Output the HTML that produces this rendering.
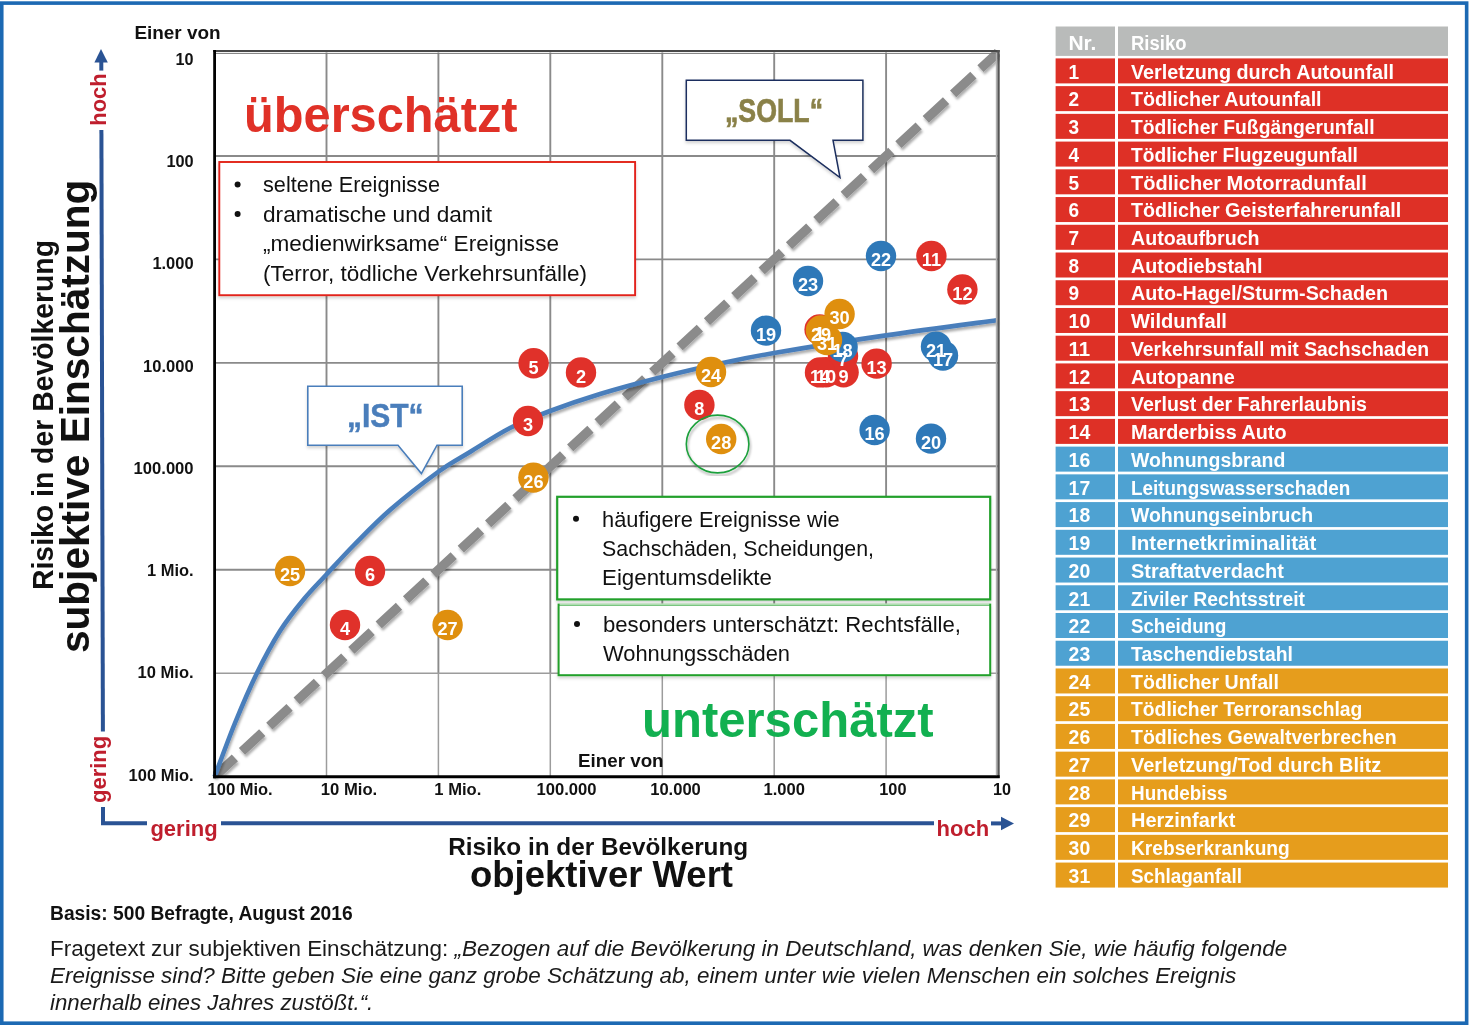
<!DOCTYPE html>
<html lang="de"><head><meta charset="utf-8"><title>Risiko in der Bevölkerung – subjektive Einschätzung und objektiver Wert</title>
<style>html,body{margin:0;padding:0;background:#fff}body{width:1471px;height:1025px;overflow:hidden}svg{display:block;font-family:"Liberation Sans", Arial, sans-serif}</style></head><body>
<svg width="1471" height="1025" viewBox="0 0 1471 1025">
<defs>
<filter id="sh" x="-5%" y="-10%" width="110%" height="130%"><feDropShadow dx="0" dy="2.2" stdDeviation="1.8" flood-color="#000" flood-opacity="0.17"/></filter>
<filter id="sh2" x="-5%" y="-5%" width="110%" height="110%"><feDropShadow dx="1.2" dy="2.6" stdDeviation="1.3" flood-color="#000" flood-opacity="0.32"/></filter>
<clipPath id="pc"><rect x="213" y="49" width="787" height="729"/></clipPath>
</defs>
<rect width="1471" height="1025" fill="#fff"/>
<rect x="1.75" y="3.1" width="1464.9" height="1020.1" fill="none" stroke="#1c69b3" stroke-width="3.6"/>
<g stroke="#8a8a8a" stroke-width="1.9" fill="none">
<line x1="326.5" y1="52.5" x2="326.5" y2="673.2"/>
<line x1="438.4" y1="52.5" x2="438.4" y2="673.2"/>
<line x1="550.3" y1="52.5" x2="550.3" y2="673.2"/>
<line x1="662.3" y1="52.5" x2="662.3" y2="673.2"/>
<line x1="774.2" y1="52.5" x2="774.2" y2="673.2"/>
<line x1="886.1" y1="52.5" x2="886.1" y2="673.2"/>
<line x1="214.6" y1="156.0" x2="998.0" y2="156.0"/>
<line x1="214.6" y1="259.4" x2="998.0" y2="259.4"/>
<line x1="214.6" y1="362.9" x2="998.0" y2="362.9"/>
<line x1="214.6" y1="466.3" x2="998.0" y2="466.3"/>
<line x1="214.6" y1="569.8" x2="998.0" y2="569.8"/>
</g>
<g stroke="#9c9c9c" stroke-width="1.5" fill="none">
<line x1="326.5" y1="673.2" x2="326.5" y2="776.7"/>
<line x1="438.4" y1="673.2" x2="438.4" y2="776.7"/>
<line x1="550.3" y1="673.2" x2="550.3" y2="776.7"/>
<line x1="662.3" y1="673.2" x2="662.3" y2="776.7"/>
<line x1="774.2" y1="673.2" x2="774.2" y2="776.7"/>
<line x1="886.1" y1="673.2" x2="886.1" y2="776.7"/>
<line x1="214.6" y1="673.2" x2="998.0" y2="673.2"/>
</g>
<line x1="214.6" y1="776.7" x2="998.0" y2="52.5" stroke="#8b8b8b" stroke-width="9.2" stroke-dasharray="27.6 9.65" filter="url(#sh2)" clip-path="url(#pc)"/>
<path d="M214.6,776.7 C218.0,767.8 227.9,740.3 235.0,723.0 C242.1,705.7 249.5,688.3 257.0,673.0 C264.5,657.7 272.2,643.3 280.0,631.0 C287.8,618.7 296.3,608.3 304.0,599.0 C311.7,589.7 317.7,584.0 326.0,575.0 C334.3,566.0 343.3,555.8 354.0,545.0 C364.7,534.2 376.0,522.2 390.0,510.0 C404.0,497.8 424.7,481.7 438.0,472.0 C451.3,462.3 458.0,459.3 470.0,452.0 C482.0,444.7 496.7,434.8 510.0,428.0 C523.3,421.2 535.0,416.7 550.0,411.0 C565.0,405.3 581.3,399.7 600.0,394.0 C618.7,388.3 642.0,382.1 662.0,377.0 C682.0,371.9 701.3,367.5 720.0,363.5 C738.7,359.5 746.3,357.7 774.0,353.0 C801.7,348.3 848.9,340.8 886.0,335.4 C923.1,329.9 978.1,322.8 996.5,320.3" fill="none" stroke="#4a7ebb" stroke-width="4.6" filter="url(#sh2)"/>
<line x1="213.2" y1="51" x2="999.7" y2="51" stroke="#484848" stroke-width="2"/>
<line x1="214.6" y1="53.4" x2="997" y2="53.4" stroke="#7a7a7a" stroke-width="1"/>
<line x1="998.5" y1="50" x2="998.5" y2="778" stroke="#555" stroke-width="2.4"/>
<line x1="996.5" y1="53" x2="996.5" y2="775" stroke="#b0b0b0" stroke-width="1.4"/>
<line x1="214.6" y1="50" x2="214.6" y2="778.2" stroke="#000" stroke-width="2.8"/>
<line x1="213.2" y1="776.7" x2="999.7" y2="776.7" stroke="#000" stroke-width="3"/>
<g>
<circle cx="819.6" cy="329.5" r="15.2" fill="#e0312a"/>
<circle cx="581" cy="372.4" r="15.2" fill="#e0312a"/>
<circle cx="528" cy="421" r="15.2" fill="#e0312a"/>
<circle cx="345" cy="625" r="15.2" fill="#e0312a"/>
<circle cx="533.6" cy="363.2" r="15.2" fill="#e0312a"/>
<circle cx="370" cy="571" r="15.2" fill="#e0312a"/>
<circle cx="843" cy="356" r="15.2" fill="#e0312a"/>
<circle cx="699.4" cy="405" r="15.2" fill="#e0312a"/>
<circle cx="843.6" cy="372.2" r="15.2" fill="#e0312a"/>
<circle cx="826" cy="372.2" r="15.2" fill="#e0312a"/>
<circle cx="931.4" cy="256" r="15.2" fill="#e0312a"/>
<circle cx="962.4" cy="289.4" r="15.2" fill="#e0312a"/>
<circle cx="876.6" cy="363.6" r="15.2" fill="#e0312a"/>
<circle cx="820" cy="372.4" r="15.2" fill="#e0312a"/>
<circle cx="874.6" cy="430" r="15.2" fill="#2e78b8"/>
<circle cx="943" cy="355.6" r="15.2" fill="#2e78b8"/>
<circle cx="842.6" cy="347" r="15.2" fill="#2e78b8"/>
<circle cx="766" cy="330.6" r="15.2" fill="#2e78b8"/>
<circle cx="931" cy="438.6" r="15.2" fill="#2e78b8"/>
<circle cx="936" cy="346.6" r="15.2" fill="#2e78b8"/>
<circle cx="881" cy="256" r="15.2" fill="#2e78b8"/>
<circle cx="808" cy="281" r="15.2" fill="#2e78b8"/>
<circle cx="711" cy="372" r="15.2" fill="#df8f0e"/>
<circle cx="290" cy="571" r="15.2" fill="#df8f0e"/>
<circle cx="533.4" cy="477.6" r="15.2" fill="#df8f0e"/>
<circle cx="447.6" cy="625" r="15.2" fill="#df8f0e"/>
<circle cx="721.2" cy="439" r="15.2" fill="#df8f0e"/>
<circle cx="839.6" cy="314" r="15.2" fill="#df8f0e"/>
<circle cx="821" cy="330.5" r="15.2" fill="#df8f0e"/>
<circle cx="827" cy="340" r="15.2" fill="#df8f0e"/>
</g>
<g fill="#fff" font-weight="bold" font-size="18.2" text-anchor="middle">
<text x="819.6" y="339.8">1</text>
<text x="581" y="382.7">2</text>
<text x="528" y="431.3">3</text>
<text x="345" y="635.3">4</text>
<text x="533.6" y="373.5">5</text>
<text x="370" y="581.3">6</text>
<text x="843" y="366.3">7</text>
<text x="699.4" y="415.3">8</text>
<text x="843.6" y="382.5">9</text>
<text x="826" y="382.5">10</text>
<text x="931.4" y="266.3">11</text>
<text x="962.4" y="299.7">12</text>
<text x="876.6" y="373.9">13</text>
<text x="820" y="382.7">14</text>
<text x="874.6" y="440.3">16</text>
<text x="943" y="365.9">17</text>
<text x="842.6" y="357.3">18</text>
<text x="766" y="340.9">19</text>
<text x="931" y="448.9">20</text>
<text x="936" y="356.9">21</text>
<text x="881" y="266.3">22</text>
<text x="808" y="291.3">23</text>
<text x="711" y="382.3">24</text>
<text x="290" y="581.3">25</text>
<text x="533.4" y="487.9">26</text>
<text x="447.6" y="635.3">27</text>
<text x="721.2" y="449.3">28</text>
<text x="839.6" y="324.3">30</text>
<text x="821" y="340.8">29</text>
<text x="827" y="350.3">31</text>
</g>
<ellipse cx="717.6" cy="444" rx="31.3" ry="28.9" fill="none" stroke="#1ea03c" stroke-width="1.6" filter="url(#sh2)"/>
<text x="244.0" y="132.0" font-size="50" fill="#e03127" font-weight="bold" textLength="273.5" lengthAdjust="spacingAndGlyphs">überschätzt</text>
<text x="642.0" y="737.0" font-size="50" fill="#12b050" font-weight="bold" textLength="291.6" lengthAdjust="spacingAndGlyphs">unterschätzt</text>
<rect x="219.3" y="162" width="415.8" height="133.2" fill="#fff" stroke="#e2231a" stroke-width="1.9" filter="url(#sh)"/>
<g fill="#111" font-size="19.6">
<circle cx="237.6" cy="184.5" r="3"/><circle cx="237.6" cy="214" r="3"/>
<text x="263.0" y="192.3" font-size="21.6" fill="#111" textLength="177.0" lengthAdjust="spacingAndGlyphs">seltene Ereignisse</text>
<text x="263.0" y="221.7" font-size="21.6" fill="#111" textLength="229.0" lengthAdjust="spacingAndGlyphs">dramatische und damit</text>
<text x="263.0" y="251.1" font-size="21.6" fill="#111" textLength="296.0" lengthAdjust="spacingAndGlyphs">„medienwirksame“ Ereignisse</text>
<text x="263.0" y="280.8" font-size="21.6" fill="#111" textLength="324.0" lengthAdjust="spacingAndGlyphs">(Terror, tödliche Verkehrsunfälle)</text>
</g>
<path d="M686.3,80.3 H862.9 V140.3 H833 L840,177.6 L790,140.3 H686.3 Z" fill="#fff" stroke="#1c2f5e" stroke-width="1.5" stroke-linejoin="miter" filter="url(#sh)"/>
<text x="725.0" y="122.0" font-size="34" fill="#8a8148" font-weight="bold" textLength="98.0" lengthAdjust="spacingAndGlyphs" stroke="#8a8148" stroke-width="0.7">„SOLL“</text>
<path d="M307.8,386.2 H462.2 V445.2 H437 L421.4,473.6 L398,445.2 H307.8 Z" fill="#fff" stroke="#4a7ebb" stroke-width="1.6" filter="url(#sh)"/>
<text x="347.0" y="427.4" font-size="33.2" fill="#4a7ebb" font-weight="bold" textLength="76.6" lengthAdjust="spacingAndGlyphs" stroke="#4a7ebb" stroke-width="0.5">„IST“</text>
<rect x="557.2" y="496.8" width="433" height="102.6" fill="#fff" stroke="#22a02c" stroke-width="2.2" filter="url(#sh)"/>
<rect x="558.6" y="604.6" width="431.6" height="70.6" fill="#fff" stroke="#22a02c" stroke-width="2.0" filter="url(#sh)"/><line x1="559.6" y1="604.1" x2="989.2" y2="604.1" stroke="#fff" stroke-width="1.1" opacity="0.85"/>
<circle cx="576" cy="518.8" r="3" fill="#111"/><circle cx="577" cy="624" r="3" fill="#111"/>
<text x="602.0" y="527.0" font-size="21.6" fill="#111" textLength="237.6" lengthAdjust="spacingAndGlyphs">häufigere Ereignisse wie</text>
<text x="602.0" y="555.8" font-size="21.6" fill="#111" textLength="272.0" lengthAdjust="spacingAndGlyphs">Sachschäden, Scheidungen,</text>
<text x="602.0" y="585.0" font-size="21.6" fill="#111" textLength="170.0" lengthAdjust="spacingAndGlyphs">Eigentumsdelikte</text>
<text x="603.0" y="631.6" font-size="21.6" fill="#111" textLength="358.0" lengthAdjust="spacingAndGlyphs">besonders unterschätzt: Rechtsfälle,</text>
<text x="603.0" y="661.0" font-size="21.6" fill="#111" textLength="187.0" lengthAdjust="spacingAndGlyphs">Wohnungsschäden</text>
<text x="134.4" y="39.2" font-size="19.2" fill="#111" font-weight="bold" textLength="86.2" lengthAdjust="spacingAndGlyphs">Einer von</text>
<text x="578.0" y="767.4" font-size="19.2" fill="#111" font-weight="bold" textLength="85.6" lengthAdjust="spacingAndGlyphs">Einer von</text>
<text x="175.6" y="64.7" font-size="16.5" fill="#111" font-weight="bold" textLength="18.0" lengthAdjust="spacingAndGlyphs">10</text>
<text x="166.4" y="166.7" font-size="16.5" fill="#111" font-weight="bold" textLength="27.2" lengthAdjust="spacingAndGlyphs">100</text>
<text x="152.4" y="269.0" font-size="16.5" fill="#111" font-weight="bold" textLength="41.2" lengthAdjust="spacingAndGlyphs">1.000</text>
<text x="143.0" y="371.5" font-size="16.5" fill="#111" font-weight="bold" textLength="50.6" lengthAdjust="spacingAndGlyphs">10.000</text>
<text x="133.6" y="473.6" font-size="16.5" fill="#111" font-weight="bold" textLength="60.0" lengthAdjust="spacingAndGlyphs">100.000</text>
<text x="147.0" y="576.0" font-size="16.5" fill="#111" font-weight="bold" textLength="46.6" lengthAdjust="spacingAndGlyphs">1 Mio.</text>
<text x="137.6" y="678.2" font-size="16.5" fill="#111" font-weight="bold" textLength="56.0" lengthAdjust="spacingAndGlyphs">10 Mio.</text>
<text x="128.6" y="780.6" font-size="16.5" fill="#111" font-weight="bold" textLength="65.0" lengthAdjust="spacingAndGlyphs">100 Mio.</text>
<text x="207.6" y="794.5" font-size="16.5" fill="#111" font-weight="bold" textLength="65.0" lengthAdjust="spacingAndGlyphs">100 Mio.</text>
<text x="320.8" y="794.5" font-size="16.5" fill="#111" font-weight="bold" textLength="56.4" lengthAdjust="spacingAndGlyphs">10 Mio.</text>
<text x="434.3" y="794.5" font-size="16.5" fill="#111" font-weight="bold" textLength="47.0" lengthAdjust="spacingAndGlyphs">1 Mio.</text>
<text x="536.5" y="794.5" font-size="16.5" fill="#111" font-weight="bold" textLength="60.0" lengthAdjust="spacingAndGlyphs">100.000</text>
<text x="650.2" y="794.5" font-size="16.5" fill="#111" font-weight="bold" textLength="50.6" lengthAdjust="spacingAndGlyphs">10.000</text>
<text x="763.5" y="794.5" font-size="16.5" fill="#111" font-weight="bold" textLength="41.4" lengthAdjust="spacingAndGlyphs">1.000</text>
<text x="879.3" y="794.5" font-size="16.5" fill="#111" font-weight="bold" textLength="27.2" lengthAdjust="spacingAndGlyphs">100</text>
<text x="993.0" y="794.5" font-size="16.5" fill="#111" font-weight="bold" textLength="18.0" lengthAdjust="spacingAndGlyphs">10</text>
<g stroke="#2a5394" stroke-width="4" fill="none">
<line x1="101.3" y1="61" x2="101.3" y2="70.6"/>
<path d="M101.4,130 L102.9,731.6"/>
<path d="M103,807 V823.2 H147"/>
<path d="M221,823.2 H934"/>
<line x1="991" y1="823.4" x2="1003" y2="823.4"/>
</g>
<path d="M101,49 L107.8,62.4 H94.4 Z" fill="#2a5394"/>
<path d="M1014,823.5 L1001,816.8 V830.2 Z" fill="#2a5394"/>
<text x="150.4" y="835.6" font-size="22" fill="#bf1e2d" font-weight="bold">gering</text>
<text x="936.6" y="835.6" font-size="22" fill="#bf1e2d" font-weight="bold">hoch</text>
<text transform="translate(106.2,803) rotate(-90)" font-size="22" font-weight="bold" fill="#bf1e2d">gering</text>
<text transform="translate(106,125.8) rotate(-90)" font-size="22" font-weight="bold" fill="#bf1e2d">hoch</text>
<text transform="translate(52.6,590) rotate(-90)" font-size="28.9" font-weight="bold" fill="#111" textLength="350" lengthAdjust="spacingAndGlyphs">Risiko in der Bevölkerung</text>
<text transform="translate(89,653) rotate(-90)" font-size="41.2" font-weight="bold" fill="#111" textLength="473.4" lengthAdjust="spacingAndGlyphs">subjektive Einschätzung</text>
<text x="448.2" y="854.8" font-size="24.3" fill="#111" font-weight="bold" textLength="300.0" lengthAdjust="spacingAndGlyphs">Risiko in der Bevölkerung</text>
<text x="470.0" y="887.2" font-size="36.5" fill="#111" font-weight="bold" textLength="263.0" lengthAdjust="spacingAndGlyphs">objektiver Wert</text>
<text x="50.0" y="920.0" font-size="19.4" fill="#111" font-weight="bold" textLength="302.7" lengthAdjust="spacingAndGlyphs">Basis: 500 Befragte, August 2016</text>
<g font-size="22.45" fill="#1a1a1a">
<text x="50" y="955.5" textLength="1237.2" lengthAdjust="spacingAndGlyphs">Fragetext zur subjektiven Einschätzung: <tspan font-style="italic">„Bezogen auf die Bevölkerung in Deutschland, was denken Sie, wie häufig folgende</tspan></text>
<text x="50" y="982.5" font-style="italic" textLength="1186.3" lengthAdjust="spacingAndGlyphs">Ereignisse sind? Bitte geben Sie eine ganz grobe Schätzung ab, einem unter wie vielen Menschen ein solches Ereignis</text>
<text x="50" y="1009.5" font-style="italic" textLength="323.3" lengthAdjust="spacingAndGlyphs">innerhalb eines Jahres zustößt.“.</text>
</g>
<g font-weight="bold" font-size="19.6" fill="#fff">
<rect x="1055.6" y="26.5" width="59.40000000000009" height="29.4" fill="#b9bbba"/><rect x="1118.0" y="26.5" width="330.0" height="29.4" fill="#b9bbba"/>
<text x="1068.4" y="49.6" textLength="28" lengthAdjust="spacingAndGlyphs">Nr.</text><text x="1131" y="49.6" textLength="55.5" lengthAdjust="spacingAndGlyphs">Risiko</text>
<rect x="1055.6" y="58.40" width="59.40000000000009" height="25" fill="#de3026"/><rect x="1118.0" y="58.40" width="330.0" height="25" fill="#de3026"/>
<text x="1068.6" y="78.6" textLength="10.6" lengthAdjust="spacingAndGlyphs">1</text><text x="1131" y="78.6" textLength="263" lengthAdjust="spacingAndGlyphs">Verletzung durch Autounfall</text>
<rect x="1055.6" y="86.13" width="59.40000000000009" height="25" fill="#de3026"/><rect x="1118.0" y="86.13" width="330.0" height="25" fill="#de3026"/>
<text x="1068.6" y="106.3" textLength="10.6" lengthAdjust="spacingAndGlyphs">2</text><text x="1131" y="106.3" textLength="190.6" lengthAdjust="spacingAndGlyphs">Tödlicher Autounfall</text>
<rect x="1055.6" y="113.86" width="59.40000000000009" height="25" fill="#de3026"/><rect x="1118.0" y="113.86" width="330.0" height="25" fill="#de3026"/>
<text x="1068.6" y="134.1" textLength="10.6" lengthAdjust="spacingAndGlyphs">3</text><text x="1131" y="134.1" textLength="243.5" lengthAdjust="spacingAndGlyphs">Tödlicher Fußgängerunfall</text>
<rect x="1055.6" y="141.59" width="59.40000000000009" height="25" fill="#de3026"/><rect x="1118.0" y="141.59" width="330.0" height="25" fill="#de3026"/>
<text x="1068.6" y="161.8" textLength="10.6" lengthAdjust="spacingAndGlyphs">4</text><text x="1131" y="161.8" textLength="226.9" lengthAdjust="spacingAndGlyphs">Tödlicher Flugzeugunfall</text>
<rect x="1055.6" y="169.32" width="59.40000000000009" height="25" fill="#de3026"/><rect x="1118.0" y="169.32" width="330.0" height="25" fill="#de3026"/>
<text x="1068.6" y="189.5" textLength="10.6" lengthAdjust="spacingAndGlyphs">5</text><text x="1131" y="189.5" textLength="235.7" lengthAdjust="spacingAndGlyphs">Tödlicher Motorradunfall</text>
<rect x="1055.6" y="197.05" width="59.40000000000009" height="25" fill="#de3026"/><rect x="1118.0" y="197.05" width="330.0" height="25" fill="#de3026"/>
<text x="1068.6" y="217.2" textLength="10.6" lengthAdjust="spacingAndGlyphs">6</text><text x="1131" y="217.2" textLength="270.1" lengthAdjust="spacingAndGlyphs">Tödlicher Geisterfahrerunfall</text>
<rect x="1055.6" y="224.78" width="59.40000000000009" height="25" fill="#de3026"/><rect x="1118.0" y="224.78" width="330.0" height="25" fill="#de3026"/>
<text x="1068.6" y="245.0" textLength="10.6" lengthAdjust="spacingAndGlyphs">7</text><text x="1131" y="245.0" textLength="128.6" lengthAdjust="spacingAndGlyphs">Autoaufbruch</text>
<rect x="1055.6" y="252.51" width="59.40000000000009" height="25" fill="#de3026"/><rect x="1118.0" y="252.51" width="330.0" height="25" fill="#de3026"/>
<text x="1068.6" y="272.7" textLength="10.6" lengthAdjust="spacingAndGlyphs">8</text><text x="1131" y="272.7" textLength="131.6" lengthAdjust="spacingAndGlyphs">Autodiebstahl</text>
<rect x="1055.6" y="280.24" width="59.40000000000009" height="25" fill="#de3026"/><rect x="1118.0" y="280.24" width="330.0" height="25" fill="#de3026"/>
<text x="1068.6" y="300.4" textLength="10.6" lengthAdjust="spacingAndGlyphs">9</text><text x="1131" y="300.4" textLength="257.1" lengthAdjust="spacingAndGlyphs">Auto-Hagel/Sturm-Schaden</text>
<rect x="1055.6" y="307.97" width="59.40000000000009" height="25" fill="#de3026"/><rect x="1118.0" y="307.97" width="330.0" height="25" fill="#de3026"/>
<text x="1068.6" y="328.2" textLength="21.6" lengthAdjust="spacingAndGlyphs">10</text><text x="1131" y="328.2" textLength="95.9" lengthAdjust="spacingAndGlyphs">Wildunfall</text>
<rect x="1055.6" y="335.70" width="59.40000000000009" height="25" fill="#de3026"/><rect x="1118.0" y="335.70" width="330.0" height="25" fill="#de3026"/>
<text x="1068.6" y="355.9" textLength="21.6" lengthAdjust="spacingAndGlyphs">11</text><text x="1131" y="355.9" textLength="298" lengthAdjust="spacingAndGlyphs">Verkehrsunfall mit Sachschaden</text>
<rect x="1055.6" y="363.43" width="59.40000000000009" height="25" fill="#de3026"/><rect x="1118.0" y="363.43" width="330.0" height="25" fill="#de3026"/>
<text x="1068.6" y="383.6" textLength="21.6" lengthAdjust="spacingAndGlyphs">12</text><text x="1131" y="383.6" textLength="103.8" lengthAdjust="spacingAndGlyphs">Autopanne</text>
<rect x="1055.6" y="391.16" width="59.40000000000009" height="25" fill="#de3026"/><rect x="1118.0" y="391.16" width="330.0" height="25" fill="#de3026"/>
<text x="1068.6" y="411.4" textLength="21.6" lengthAdjust="spacingAndGlyphs">13</text><text x="1131" y="411.4" textLength="236" lengthAdjust="spacingAndGlyphs">Verlust der Fahrerlaubnis</text>
<rect x="1055.6" y="418.89" width="59.40000000000009" height="25" fill="#de3026"/><rect x="1118.0" y="418.89" width="330.0" height="25" fill="#de3026"/>
<text x="1068.6" y="439.1" textLength="21.6" lengthAdjust="spacingAndGlyphs">14</text><text x="1131" y="439.1" textLength="155.5" lengthAdjust="spacingAndGlyphs">Marderbiss Auto</text>
<rect x="1055.6" y="446.62" width="59.40000000000009" height="25" fill="#4ea2d2"/><rect x="1118.0" y="446.62" width="330.0" height="25" fill="#4ea2d2"/>
<text x="1068.6" y="466.8" textLength="21.6" lengthAdjust="spacingAndGlyphs">16</text><text x="1131" y="466.8" textLength="154.3" lengthAdjust="spacingAndGlyphs">Wohnungsbrand</text>
<rect x="1055.6" y="474.35" width="59.40000000000009" height="25" fill="#4ea2d2"/><rect x="1118.0" y="474.35" width="330.0" height="25" fill="#4ea2d2"/>
<text x="1068.6" y="494.5" textLength="21.6" lengthAdjust="spacingAndGlyphs">17</text><text x="1131" y="494.5" textLength="219.3" lengthAdjust="spacingAndGlyphs">Leitungswasserschaden</text>
<rect x="1055.6" y="502.08" width="59.40000000000009" height="25" fill="#4ea2d2"/><rect x="1118.0" y="502.08" width="330.0" height="25" fill="#4ea2d2"/>
<text x="1068.6" y="522.3" textLength="21.6" lengthAdjust="spacingAndGlyphs">18</text><text x="1131" y="522.3" textLength="182.1" lengthAdjust="spacingAndGlyphs">Wohnungseinbruch</text>
<rect x="1055.6" y="529.81" width="59.40000000000009" height="25" fill="#4ea2d2"/><rect x="1118.0" y="529.81" width="330.0" height="25" fill="#4ea2d2"/>
<text x="1068.6" y="550.0" textLength="21.6" lengthAdjust="spacingAndGlyphs">19</text><text x="1131" y="550.0" textLength="185.4" lengthAdjust="spacingAndGlyphs">Internetkriminalität</text>
<rect x="1055.6" y="557.54" width="59.40000000000009" height="25" fill="#4ea2d2"/><rect x="1118.0" y="557.54" width="330.0" height="25" fill="#4ea2d2"/>
<text x="1068.6" y="577.7" textLength="21.6" lengthAdjust="spacingAndGlyphs">20</text><text x="1131" y="577.7" textLength="152.8" lengthAdjust="spacingAndGlyphs">Straftatverdacht</text>
<rect x="1055.6" y="585.27" width="59.40000000000009" height="25" fill="#4ea2d2"/><rect x="1118.0" y="585.27" width="330.0" height="25" fill="#4ea2d2"/>
<text x="1068.6" y="605.5" textLength="21.6" lengthAdjust="spacingAndGlyphs">21</text><text x="1131" y="605.5" textLength="174" lengthAdjust="spacingAndGlyphs">Ziviler Rechtsstreit</text>
<rect x="1055.6" y="613.00" width="59.40000000000009" height="25" fill="#4ea2d2"/><rect x="1118.0" y="613.00" width="330.0" height="25" fill="#4ea2d2"/>
<text x="1068.6" y="633.2" textLength="21.6" lengthAdjust="spacingAndGlyphs">22</text><text x="1131" y="633.2" textLength="95.3" lengthAdjust="spacingAndGlyphs">Scheidung</text>
<rect x="1055.6" y="640.73" width="59.40000000000009" height="25" fill="#4ea2d2"/><rect x="1118.0" y="640.73" width="330.0" height="25" fill="#4ea2d2"/>
<text x="1068.6" y="660.9" textLength="21.6" lengthAdjust="spacingAndGlyphs">23</text><text x="1131" y="660.9" textLength="161.9" lengthAdjust="spacingAndGlyphs">Taschendiebstahl</text>
<rect x="1055.6" y="668.46" width="59.40000000000009" height="25" fill="#e69d1c"/><rect x="1118.0" y="668.46" width="330.0" height="25" fill="#e69d1c"/>
<text x="1068.6" y="688.7" textLength="21.6" lengthAdjust="spacingAndGlyphs">24</text><text x="1131" y="688.7" textLength="147.9" lengthAdjust="spacingAndGlyphs">Tödlicher Unfall</text>
<rect x="1055.6" y="696.19" width="59.40000000000009" height="25" fill="#e69d1c"/><rect x="1118.0" y="696.19" width="330.0" height="25" fill="#e69d1c"/>
<text x="1068.6" y="716.4" textLength="21.6" lengthAdjust="spacingAndGlyphs">25</text><text x="1131" y="716.4" textLength="231.4" lengthAdjust="spacingAndGlyphs">Tödlicher Terroranschlag</text>
<rect x="1055.6" y="723.92" width="59.40000000000009" height="25" fill="#e69d1c"/><rect x="1118.0" y="723.92" width="330.0" height="25" fill="#e69d1c"/>
<text x="1068.6" y="744.1" textLength="21.6" lengthAdjust="spacingAndGlyphs">26</text><text x="1131" y="744.1" textLength="265.6" lengthAdjust="spacingAndGlyphs">Tödliches Gewaltverbrechen</text>
<rect x="1055.6" y="751.65" width="59.40000000000009" height="25" fill="#e69d1c"/><rect x="1118.0" y="751.65" width="330.0" height="25" fill="#e69d1c"/>
<text x="1068.6" y="771.9" textLength="21.6" lengthAdjust="spacingAndGlyphs">27</text><text x="1131" y="771.9" textLength="250.2" lengthAdjust="spacingAndGlyphs">Verletzung/Tod durch Blitz</text>
<rect x="1055.6" y="779.38" width="59.40000000000009" height="25" fill="#e69d1c"/><rect x="1118.0" y="779.38" width="330.0" height="25" fill="#e69d1c"/>
<text x="1068.6" y="799.6" textLength="21.6" lengthAdjust="spacingAndGlyphs">28</text><text x="1131" y="799.6" textLength="96.5" lengthAdjust="spacingAndGlyphs">Hundebiss</text>
<rect x="1055.6" y="807.11" width="59.40000000000009" height="25" fill="#e69d1c"/><rect x="1118.0" y="807.11" width="330.0" height="25" fill="#e69d1c"/>
<text x="1068.6" y="827.3" textLength="21.6" lengthAdjust="spacingAndGlyphs">29</text><text x="1131" y="827.3" textLength="104.4" lengthAdjust="spacingAndGlyphs">Herzinfarkt</text>
<rect x="1055.6" y="834.84" width="59.40000000000009" height="25" fill="#e69d1c"/><rect x="1118.0" y="834.84" width="330.0" height="25" fill="#e69d1c"/>
<text x="1068.6" y="855.0" textLength="21.6" lengthAdjust="spacingAndGlyphs">30</text><text x="1131" y="855.0" textLength="158.8" lengthAdjust="spacingAndGlyphs">Krebserkrankung</text>
<rect x="1055.6" y="862.57" width="59.40000000000009" height="25" fill="#e69d1c"/><rect x="1118.0" y="862.57" width="330.0" height="25" fill="#e69d1c"/>
<text x="1068.6" y="882.8" textLength="21.6" lengthAdjust="spacingAndGlyphs">31</text><text x="1131" y="882.8" textLength="111" lengthAdjust="spacingAndGlyphs">Schlaganfall</text>
</g>
</svg></body></html>
